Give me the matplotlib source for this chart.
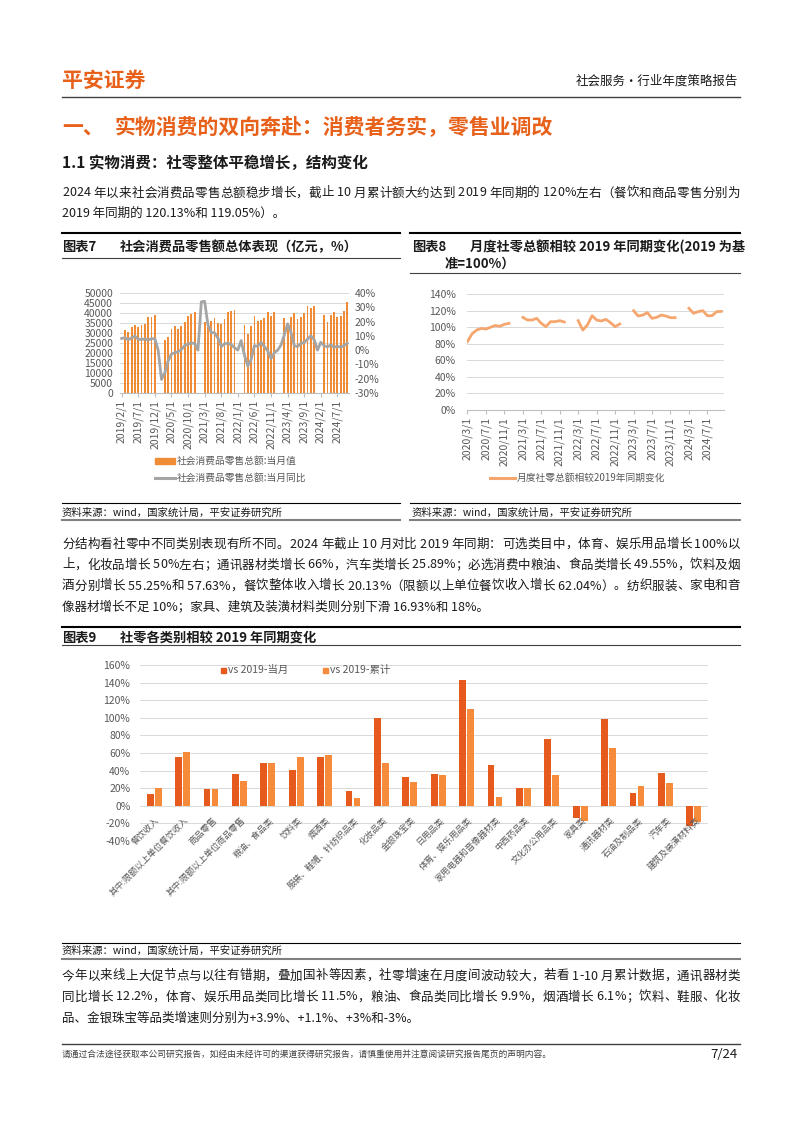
import numpy as np
import matplotlib
matplotlib.use('Agg')
import matplotlib.pyplot as plt
from matplotlib.lines import Line2D
from matplotlib.patches import Rectangle
from matplotlib.font_manager import FontProperties

plt.rcParams['font.family'] = ['Noto Sans CJK SC', 'DejaVu Sans']
plt.rcParams['axes.unicode_minus'] = False

nan = np.nan

# ---------------- 数据 ----------------
# 图表7：社会消费品零售总额（亿元）当月值，2019/2 - 2024/10
retail_2019 = [nan, 31726, 30586, 32956, 33878, 33073, 33896, 34495, 38104, 38094, 38777]
retail_2020 = [nan, nan, 26450, 28178, 31973, 33526, 32203, 33571, 35295, 38576, 39514, 40566]
retail_2021 = [nan, nan, 35484, 33153, 35945, 37586, 34925, 34395, 36833, 40454, 41043, 41269]
retail_2022 = [nan, nan, 34233, 29483, 33547, 38742, 35870, 36258, 37745, 40271, 38615, 40542]
retail_2023 = [nan, nan, 37715, 34910, 37803, 39951, 36761, 37933, 39826, 43333, 42505, 43550]
retail_2024 = [nan, nan, 39020, 35699, 39211, 40732, 37757, 38726, 41112, 45396]
# 当月同比（%）
yoy_2019 = [8.2, 8.7, 7.2, 8.6, 9.8, 7.6, 7.5, 7.8, 7.2, 8.0, 8.0]
yoy_2020 = [0, -20.5, -15.8, -7.5, -2.8, -1.8, -1.1, 0.5, 3.3, 4.3, 5.0, 4.6]
yoy_2021 = [0, 33.8, 34.2, 17.7, 12.4, 12.1, 8.5, 2.5, 4.4, 4.9, 3.9, 1.7]
yoy_2022 = [0, 6.7, -3.5, -11.1, -6.7, 3.1, 2.7, 5.4, 2.5, -0.5, -5.9, -1.8]
yoy_2023 = [0, 3.5, 10.6, 18.4, 12.7, 3.1, 2.5, 4.6, 5.5, 7.6, 10.1, 7.4]
yoy_2024 = [0, 5.5, 3.1, 2.3, 3.7, 2.0, 2.7, 2.1, 3.2, 4.8]
months7 = [f'{y}/{m}/1' for y in range(2019, 2025) for m in range(1, 13)][1:-2]

# 图表8：月度社零总额相较2019年同期（%），2020/3 - 2024/10
idx_2020 = [82.5, 92, 96.5, 98.5, 97.7, 99.8, 102, 101, 103.4, 104.6]
idx_2021 = [nan, nan, 111.8, 108.6, 108.6, 110.6, 104.6, 100.6, 106.6, 106.6, 107.8, 106.2]
idx_2022 = [nan, nan, 107.8, 96.5, 102.6, 113.8, 108.6, 107.4, 109.4, 105.4, 100.6, 103.8]
idx_2023 = [nan, nan, 119.9, 113.4, 114.6, 117.5, 110.6, 111.8, 114.6, 113.4, 111.4, 111.4]
idx_2024 = [nan, nan, 122.7, 116.7, 118.7, 119.9, 113.8, 113.8, 118.7, 119.0]
months8 = [f'{y}/{m}/1' for y in range(2020, 2025) for m in range(1, 13)][2:-2]

# 图表9：各类别相较2019年同期变化（%）
cats9 = ['餐饮收入', '其中:限额以上单位餐饮收入', '商品零售', '其中:限额以上单位商品零售',
         '粮油、食品类', '饮料类', '烟酒类', '服装、鞋帽、针纺织品类', '化妆品类', '金银珠宝类',
         '日用品类', '体育、娱乐用品类', '家用电器和音像器材类', '中西药品类', '文化办公用品类',
         '家具类', '通讯器材类', '石油及制品类', '汽车类', '建筑及装潢材料类']
vs_month = [12.9, 55.7, 19.3, 36.0, 48.1, 40.5, 55.3, 16.3, 100.0, 32.6,
            36.4, 142.4, 46.0, 20.0, 75.4, -14.4, 99.2, 14.0, 37.5, -23.0]
vs_cum = [19.7, 61.4, 18.6, 27.7, 49.2, 55.0, 57.2, 8.3, 49.2, 27.0,
          34.8, 109.5, 9.5, 20.5, 35.0, -17.4, 65.5, 22.3, 25.4, -18.6]

retail = retail_2019 + retail_2020 + retail_2021 + retail_2022 + retail_2023 + retail_2024
yoy = yoy_2019 + yoy_2020 + yoy_2021 + yoy_2022 + yoy_2023 + yoy_2024
idx8 = idx_2020 + idx_2021 + idx_2022 + idx_2023 + idx_2024

# ---------------- 页面 ----------------
W, H = 802, 1133
fig = plt.figure(figsize=(W / 100, H / 100), dpi=100)
fig.patch.set_facecolor('white')

ORANGE = '#E8611A'
TXT = '#1A1A1A'
GRID = '#D9D9D9'
TICK = '#595959'


def T(x, y, s, **kw):
    kw.setdefault('va', 'center')
    kw.setdefault('color', TXT)
    return fig.text(x / W, 1 - y / H, s, **kw)


def HL(x0, x1, y, lw=1.0, color='#000000'):
    fig.add_artist(Line2D([x0 / W, x1 / W], [1 - y / H] * 2, lw=lw, color=color,
                          transform=fig.transFigure))


def AX(x0, y0, x1, y1):
    return fig.add_axes([x0 / W, 1 - y1 / H, (x1 - x0) / W, (y1 - y0) / H])


def LINE(y, s, size=9, justify=True, x0=62, x1=740):
    # 两端对齐的正文行
    if not justify:
        T(x0, y, s, fontsize=size)
        return
    r = fig.canvas.get_renderer()
    fp = FontProperties(family=['Noto Sans CJK SC', 'DejaVu Sans'], size=size)
    wid = lambda t: r.get_text_width_height_descent(t, fp, ismath=False)[0] if t.strip() else 0
    pos = [wid(s[:i + 1]) - wid(s[i]) for i in range(len(s))]
    total = wid(s)
    extra = (x1 - x0 - total) / (len(s) - 1)
    for i, ch in enumerate(s):
        if ch != ' ':
            T(x0 + pos[i] + i * extra, y, ch, fontsize=size)


# 页眉
T(62, 80, '平安证券', fontsize=15, fontweight='bold', color=ORANGE)
T(738, 81, '社会服务·行业年度策略报告', fontsize=9, ha='right')
HL(62, 740, 97, lw=1.0, color='#404040')

T(62, 128, '一、', fontsize=15, fontweight='bold', color=ORANGE)
T(115, 128, '实物消费的双向奔赴：消费者务实，零售业调改', fontsize=15, fontweight='bold', color=ORANGE)
T(62, 163, '1.1 实物消费：社零整体平稳增长，结构变化', fontsize=11.2, fontweight='bold')

LINE(193, '2024 年以来社会消费品零售总额稳步增长，截止 10 月累计额大约达到 2019 年同期的 120%左右（餐饮和商品零售分别为')
LINE(213, '2019 年同期的 120.13%和 119.05%）。', justify=False)

# ---------------- 图表7 ----------------
HL(62, 400, 233, lw=1.5)
T(62, 247, '图表7', fontsize=9.5, fontweight='bold')
T(120, 247, '社会消费品零售额总体表现（亿元，%）', fontsize=9.5, fontweight='bold')
HL(62, 400, 258, lw=0.8, color='#404040')

ax7 = AX(120, 293, 349, 393)
x7 = np.arange(len(months7))
ax7.bar(x7, retail, width=0.55, color='#F08B36', zorder=2)
ax7.set_xlim(-0.5, len(months7) - 0.5)
ax7.set_ylim(0, 50000)
ax7.set_yticks(np.arange(0, 50001, 5000))
ax7.grid(axis='y', color=GRID, lw=0.7, zorder=0)
ax7.set_xticks(x7[::5])
ax7.set_xticklabels(months7[::5], rotation=90, fontsize=7.5, color=TICK)
ax7.tick_params(axis='x', length=3, color='#BFBFBF', pad=2)
ax7.tick_params(axis='y', length=0, labelsize=7.5, labelcolor=TICK, pad=5)
for sp in ['top', 'left', 'right']:
    ax7.spines[sp].set_visible(False)
ax7.spines['bottom'].set_color('#BFBFBF')
ax7b = ax7.twinx()
ax7b.plot(x7, yoy, color='#A5A5A5', lw=2.0, zorder=3)
ax7b.set_ylim(-30, 40)
ax7b.set_yticks(np.arange(-30, 41, 10))
ax7b.set_yticklabels([f'{v}%' for v in range(-30, 41, 10)])
ax7b.tick_params(axis='y', length=0, labelsize=7.5, labelcolor=TICK, pad=4)
for sp in ax7b.spines.values():
    sp.set_visible(False)

fig.add_artist(Rectangle((155 / W, 1 - 464 / H), 20 / W, 6 / H, color='#F08B36', transform=fig.transFigure))
T(177, 461, '社会消费品零售总额:当月值', fontsize=7, color=TICK)
HL(155, 175, 478, lw=2.2, color='#A5A5A5')
T(177, 478, '社会消费品零售总额:当月同比', fontsize=7, color=TICK)

HL(62, 400, 503, lw=0.8, color='#000000')
T(62, 513, '资料来源：wind，国家统计局，平安证券研究所', fontsize=7.5, style='italic')
HL(62, 400, 520, lw=1.5, color='#808080')

# ---------------- 图表8 ----------------
HL(410, 740, 233, lw=1.5)
T(412, 247, '图表8', fontsize=9.5, fontweight='bold')
T(470, 247, '月度社零总额相较 2019 年同期变化(2019 为基', fontsize=9.5, fontweight='bold')
T(445, 264, '准=100%）', fontsize=9.5, fontweight='bold')
HL(410, 740, 273, lw=0.8, color='#404040')

ax8 = AX(467, 294, 724, 410)
x8 = np.arange(len(months8))
ax8.plot(x8, idx8, color='#F4A66E', lw=2.0, zorder=3)
ax8.set_xlim(-0.1, len(months8) - 0.4)
ax8.set_ylim(0, 140)
ax8.set_yticks(np.arange(0, 141, 20))
ax8.set_yticklabels([f'{v}%' for v in range(0, 141, 20)])
ax8.grid(axis='y', color=GRID, lw=0.7, zorder=0)
ax8.set_xticks(x8[::4])
ax8.set_xticklabels(months8[::4], rotation=90, fontsize=7.5, color=TICK)
ax8.tick_params(axis='x', length=3, color='#BFBFBF', pad=2)
ax8.tick_params(axis='y', length=0, labelsize=7.5, labelcolor=TICK, pad=8)
for sp in ['top', 'left', 'right']:
    ax8.spines[sp].set_visible(False)
ax8.spines['bottom'].set_color('#BFBFBF')

HL(490, 515, 478, lw=2.2, color='#F4A66E')
T(517, 478, '月度社零总额相较2019年同期变化', fontsize=7, color=TICK)

HL(410, 740, 503, lw=0.8, color='#000000')
T(412, 513, '资料来源：wind，国家统计局，平安证券研究所', fontsize=7.5, style='italic')
HL(410, 740, 520, lw=1.5, color='#808080')

# 正文2
LINE(544, '分结构看社零中不同类别表现有所不同。2024 年截止 10 月对比 2019 年同期：可选类目中，体育、娱乐用品增长 100%以')
LINE(565, '上，化妆品增长 50%左右；通讯器材类增长 66%，汽车类增长 25.89%；必选消费中粮油、食品类增长 49.55%，饮料及烟')
LINE(586, '酒分别增长 55.25%和 57.63%，餐饮整体收入增长 20.13%（限额以上单位餐饮收入增长 62.04%）。纺织服装、家电和音')
LINE(607, '像器材增长不足 10%；家具、建筑及装潢材料类则分别下滑 16.93%和 18%。', justify=False)

# ---------------- 图表9 ----------------
HL(62, 740, 627, lw=1.5)
T(62, 638, '图表9', fontsize=9.5, fontweight='bold')
T(120, 638, '社零各类别相较 2019 年同期变化', fontsize=9.5, fontweight='bold')
HL(62, 740, 645, lw=0.8, color='#404040')

ax9 = AX(140, 665, 708, 841)
x9 = np.arange(len(cats9))
ax9.bar(x9 - 0.14, vs_month, width=0.24, color='#E65A1E', zorder=2)
ax9.bar(x9 + 0.14, vs_cum, width=0.24, color='#F68B3C', zorder=2)
ax9.set_xlim(-0.5, len(cats9) - 0.5)
ax9.set_ylim(-40, 160)
ax9.set_yticks(np.arange(-40, 161, 20))
ax9.set_yticklabels([f'{v}%' for v in range(-40, 161, 20)])
ax9.grid(axis='y', color=GRID, lw=0.7, zorder=0)
ax9.set_xticks([])
ax9.tick_params(axis='y', length=0, labelsize=7.5, labelcolor=TICK, pad=7)
for sp in ax9.spines.values():
    sp.set_visible(False)
for i, c in enumerate(cats9):
    ax9.text(i + 0.15, -15, c, rotation=45, ha='right', va='center', rotation_mode='anchor',
             fontsize=6.3, color=TICK)

fig.add_artist(Rectangle((221 / W, 1 - 673 / H), 5 / W, 5 / H, color='#E65A1E', transform=fig.transFigure))
T(228, 670, 'vs 2019-当月', fontsize=7.5, color=TICK)
fig.add_artist(Rectangle((323 / W, 1 - 673 / H), 5 / W, 5 / H, color='#F68B3C', transform=fig.transFigure))
T(330, 670, 'vs 2019-累计', fontsize=7.5, color=TICK)

HL(62, 740, 943, lw=0.8, color='#000000')
T(62, 951, '资料来源：wind，国家统计局，平安证券研究所', fontsize=7.5, style='italic')
HL(62, 740, 959, lw=1.5, color='#808080')

# 正文3
LINE(976, '今年以来线上大促节点与以往有错期，叠加国补等因素，社零增速在月度间波动较大，若看 1-10 月累计数据，通讯器材类')
LINE(997, '同比增长 12.2%，体育、娱乐用品类同比增长 11.5%，粮油、食品类同比增长 9.9%，烟酒增长 6.1%；饮料、鞋服、化妆')
LINE(1018, '品、金银珠宝等品类增速则分别为+3.9%、+1.1%、+3%和-3%。', justify=False)

# 页脚
HL(62, 740, 1044, lw=1.0, color='#404040')
T(62, 1054, '请通过合法途径获取本公司研究报告，如经由未经许可的渠道获得研究报告，请慎重使用并注意阅读研究报告尾页的声明内容。',
  fontsize=6.3, color='#404040')
T(738, 1054, '7/24', fontsize=9.5, ha='right')

fig.savefig('out.png', dpi=100, facecolor='white')
